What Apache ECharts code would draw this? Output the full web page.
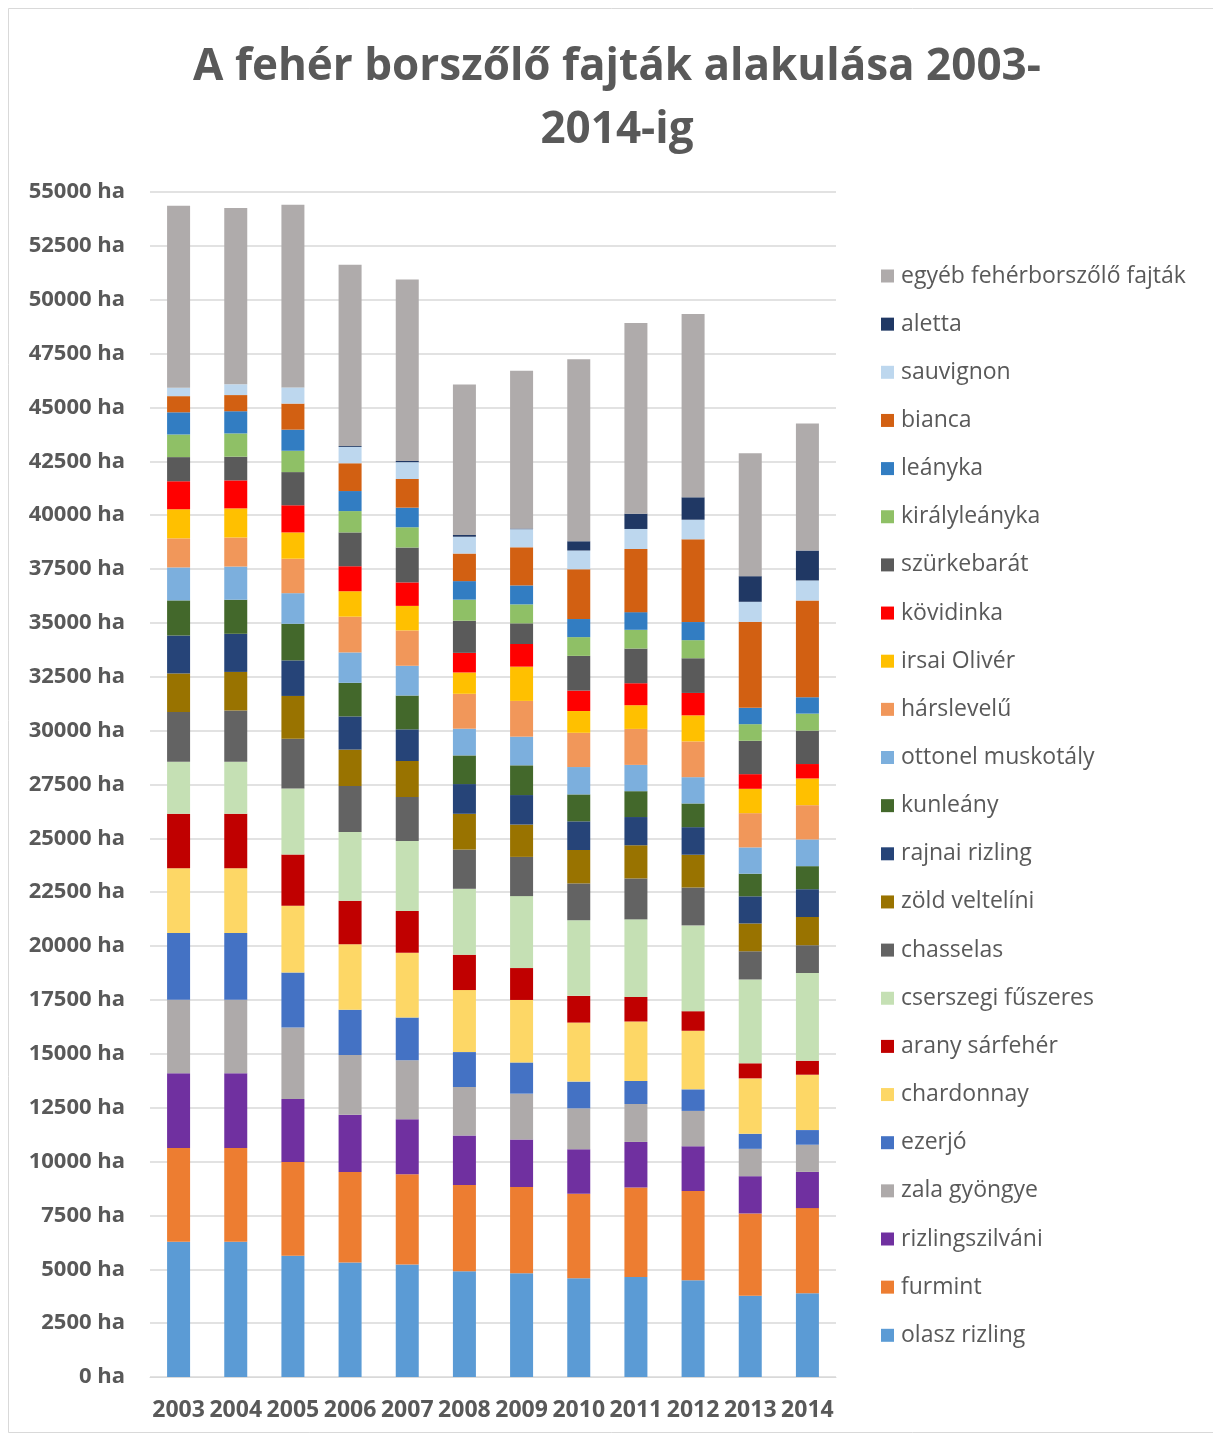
<!DOCTYPE html>
<html>
<head>
<meta charset="utf-8">
<script src="https://cdn.jsdelivr.net/npm/echarts@6/dist/echarts.min.js"></script>
<style>
html,body{margin:0;padding:0;background:#fff;}
#chart{width:1213px;height:1437px;}
</style>
</head>
<body>
<div id="chart"></div>
<script>
const years = ['2003','2004','2005','2006','2007','2008','2009','2010','2011','2012','2013','2014'];
const yTickMax = 55000;
const yTickStep = 2500;

const olaszRizling    = [6280,6280,5630,5310,5220,4910,4820,4580,4640,4490,3770,3890];
const furmint         = [4350,4350,4350,4210,4190,4000,4000,3930,4160,4140,3820,3950];
const rizlingszilvani = [3465,3465,2920,2650,2550,2300,2200,2060,2110,2080,1730,1680];
const zalaGyongye     = [3410,3410,3320,2780,2740,2250,2130,1900,1760,1640,1270,1260];
const ezerjo          = [3100,3100,2560,2100,1990,1620,1450,1240,1070,1000,700,680];
const chardonnay      = [3010,3010,3090,3040,3000,2880,2900,2740,2760,2720,2570,2570];
const aranySarfeher   = [2530,2530,2380,2010,1940,1640,1480,1240,1140,910,700,650];
const cserszegi       = [2410,2410,3070,3200,3250,3060,3340,3510,3600,3980,3890,4070];
const chasselas       = [2310,2380,2300,2130,2040,1820,1820,1710,1900,1760,1310,1290];
const zoldVeltelini   = [1790,1790,1990,1690,1670,1660,1500,1550,1540,1520,1290,1310];
const rajnaiRizling   = [1760,1770,1650,1540,1470,1380,1370,1330,1310,1280,1260,1290];
const kunleany        = [1630,1580,1700,1560,1570,1330,1380,1250,1200,1100,1050,1070];
const ottonel         = [1530,1540,1420,1410,1380,1240,1330,1270,1220,1220,1220,1240];
const harslevelu      = [1350,1350,1600,1660,1640,1620,1660,1590,1670,1660,1590,1590];
const irsaiOliver     = [1350,1350,1220,1180,1140,990,1590,1010,1100,1210,1130,1240];
const kovidinka       = [1300,1300,1260,1160,1090,910,1050,950,1020,1040,680,670];
const szurkebarat     = [1120,1100,1540,1570,1620,1490,960,1610,1610,1610,1550,1550];
const kiralyleanyka   = [1050,1080,990,990,940,980,880,870,870,840,770,790];
const leanyka         = [1030,1030,980,930,910,860,880,840,820,840,760,760];
const bianca          = [750,750,1210,1290,1330,1280,1770,2310,2930,3840,3990,4490];
const sauvignon       = [390,500,750,760,780,780,840,870,930,910,930,930];
const aletta          = [0,0,0,40,60,80,30,430,710,1040,1190,1390];
const egyeb           = [8450,8180,8480,8410,8420,6990,7320,8450,8850,8510,5710,5900];

const seriesNames = ['olasz rizling','furmint','rizlingszilváni','zala gyöngye','ezerjó','chardonnay','arany sárfehér','cserszegi fűszeres','chasselas','zöld veltelíni','rajnai rizling','kunleány','ottonel muskotály','hárslevelű','irsai Olivér','kövidinka','szürkebarát','királyleányka','leányka','bianca','sauvignon','aletta','egyéb fehérborszőlő fajták'];
const seriesData = [olaszRizling,furmint,rizlingszilvani,zalaGyongye,ezerjo,chardonnay,aranySarfeher,cserszegi,chasselas,zoldVeltelini,rajnaiRizling,kunleany,ottonel,harslevelu,irsaiOliver,kovidinka,szurkebarat,kiralyleanyka,leanyka,bianca,sauvignon,aletta,egyeb];
const seriesColors = ['#5B9BD5','#ED7D31','#7030A0','#AEAAAA','#4472C4','#FDD766','#C00000','#C5E0B4','#636363','#997300','#264478','#43682B','#7CAFDD','#F1975A','#FFC000','#FF0000','#5A5A5A','#8FC066','#327DC2','#D26012','#BDD7EE','#203864','#AFABAB'];

const chart = echarts.init(document.getElementById('chart'), null, {renderer:'canvas'});
const FONT = 'Open Sans';
const TXT = '#595959';

chart.setOption({
  animation: false,
  backgroundColor: '#ffffff',
  color: seriesColors,
  title: {
    text: 'A fehér borszőlő fajták alakulása 2003-\n2014-ig',
    left: 612, top: 31, textAlign: 'center',
    textStyle: {fontFamily: FONT, fontWeight: 'bold', fontSize: 44, color: TXT, lineHeight: 63}
  },
  graphic: [{
    type: 'rect', shape: {x: 8.5, y: 8.5, width: 1220, height: 1424},
    style: {fill: 'none', stroke: '#d9d9d9', lineWidth: 1}, silent: true, z: -10
  }],
  legend: {
    orient: 'vertical', left: 876, top: 259,
    itemWidth: 13, itemHeight: 13, itemGap: 24.15, icon: 'rect',
    data: seriesNames.slice().reverse(),
    textStyle: {fontFamily: FONT, fontSize: 23, color: TXT, lineHeight: 24, padding: [0,0,0,2]}
  },
  grid: {left: 150, right: 377, top: 192, bottom: 60, containLabel: false},
  xAxis: {
    type: 'category', data: years,
    axisLine: {lineStyle: {color: '#d9d9d9', width: 1}},
    axisTick: {show: false},
    axisLabel: {fontFamily: FONT, fontWeight: 'bold', fontSize: 23, color: TXT, margin: 22, interval: 0}
  },
  yAxis: {
    type: 'value', min: 0, max: yTickMax, interval: yTickStep,
    axisLine: {show: false}, axisTick: {show: false},
    splitLine: {lineStyle: {color: '#d9d9d9', width: 1.5}},
    axisLabel: {formatter: v => v + ' ha', fontFamily: FONT, fontWeight: 'bold', fontSize: 22, color: TXT, margin: 25}
  },
  series: seriesNames.map((n, i) => ({
    name: n, type: 'bar', stack: 'total', barWidth: 23,
    data: seriesData[i],
    itemStyle: {color: seriesColors[i]},
    emphasis: {disabled: true}
  }))
});
</script>
</body>
</html>
